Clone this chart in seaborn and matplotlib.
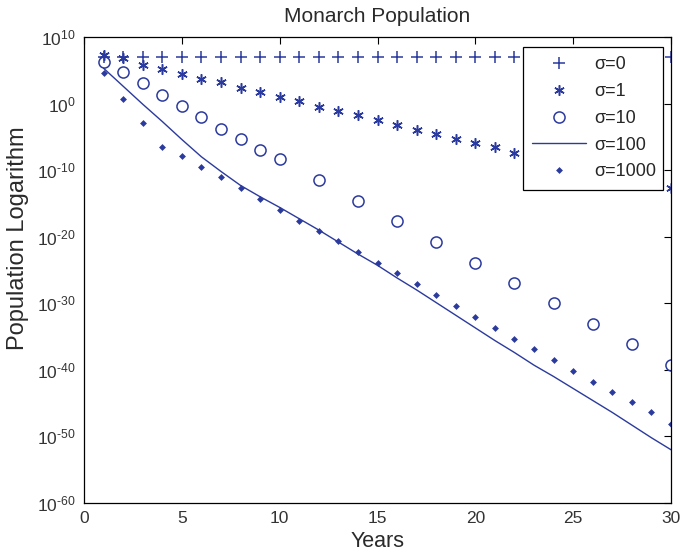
import numpy as np
import pandas as pd
import matplotlib
matplotlib.use("Agg")
import matplotlib.pyplot as plt
import seaborn as sns

# years and log10 of population
years = list(range(1, 31))
sigma0_exp = [7.0] * 30
sigma1_exp = [7.30, 6.80, 5.79, 5.15, 4.40, 3.65, 3.20, 2.29, 1.78, 0.94,
              0.39, -0.56, -1.07, -1.72, -2.51, -3.22, -3.97, -4.57, -5.37, -5.97,
              -6.56, -7.47, -8.1, -8.7, -9.3, -9.9, -10.6, -11.2, -11.9, -12.68]
sigma10_years = [1, 2, 3, 4, 5, 6, 7, 8, 9, 10, 12, 14, 16, 18, 20, 22, 24, 26, 28, 30]
sigma10_exp = [6.29, 4.79, 3.14, 1.29, -0.37, -1.97, -3.82, -5.37, -6.97, -8.37,
               -11.48, -14.59, -17.59, -20.75, -23.90, -27.0, -30.0, -33.1, -36.1, -39.2]
sigma100_exp = [5.3, 2.6, -0.1, -2.7, -5.4, -8.0, -10.2, -12.3, -14.0, -15.6,
                -17.3, -19.0, -20.8, -22.6, -24.3, -26.2, -28.0, -29.9, -31.8, -33.7,
                -35.6, -37.4, -39.3, -41.0, -42.8, -44.6, -46.4, -48.3, -50.2, -52.0]
sigma1000_exp = [4.64, 0.69, -2.96, -6.57, -7.83, -9.48, -11.03, -12.72, -14.38, -15.94,
                 -17.59, -19.10, -20.64, -22.25, -23.90, -25.50, -27.15, -28.76, -30.41, -32.0,
                 -33.7, -35.3, -36.9, -38.5, -40.2, -41.8, -43.3, -44.9, -46.4, -48.1]
ytick_exp = [-60, -50, -40, -30, -20, -10, 0, 10]

sns.set_style("white")
plt.rcParams['font.family'] = ['Liberation Sans', 'DejaVu Sans']
plt.rcParams['mathtext.fontset'] = 'custom'
plt.rcParams['mathtext.rm'] = 'Liberation Sans'
plt.rcParams['mathtext.it'] = 'Liberation Sans'
plt.rcParams['axes.unicode_minus'] = False

blue = '#2b3a9e'

fig = plt.figure(figsize=(6.82, 5.56), dpi=100)
ax = fig.add_axes([0.1232, 0.0953, 0.8607, 0.8382])

def frame(xs, exps):
    return pd.DataFrame({"year": xs, "pop": [10.0 ** e for e in exps]})

# seaborn paints marker edges white by default, so force the edge colour
common = dict(ax=ax, estimator=None, color=blue, markeredgecolor=blue)
sns.lineplot(data=frame(years, sigma0_exp), x="year", y="pop", linestyle='', marker='+',
             markersize=8.5, markeredgewidth=1.1, label='σ=0', **common)
sns.lineplot(data=frame(years, sigma1_exp), x="year", y="pop", linestyle='', marker=(6, 2, 0),
             markersize=7.5, markeredgewidth=1.1, label='σ=1', **common)
sns.lineplot(data=frame(sigma10_years, sigma10_exp), x="year", y="pop", linestyle='', marker='o',
             markersize=8, markerfacecolor='none', markeredgewidth=1.1, label='σ=10', **common)
sns.lineplot(data=frame(years, sigma100_exp), x="year", y="pop", linewidth=1.0,
             label='σ=100', **common)
sns.lineplot(data=frame(years, sigma1000_exp), x="year", y="pop", linestyle='', marker='D',
             markersize=3.5, markeredgewidth=0, label='σ=1000', **common)

ax.set_yscale('log')
ax.set_xlim(0, 30)
ax.set_ylim(1e-60, 1e10)
ax.set_xticks([0, 5, 10, 15, 20, 25, 30])
ax.set_yticks([10.0 ** e for e in ytick_exp])
ax.set_yticklabels([r'$\mathregular{10^{\text{%d}}}$' % e for e in ytick_exp])
ax.yaxis.set_minor_locator(matplotlib.ticker.NullLocator())
ax.tick_params(direction='in', top=True, right=True, length=5, width=0.8,
               labelsize=12.5, colors='black', labelcolor='#333333', pad=6)
for sp in ax.spines.values():
    sp.set_color('black')
    sp.set_linewidth(0.9)

ax.set_title('Monarch Population', fontsize=15, color='#2a2a2a', pad=11)
ax.set_xlabel('Years', fontsize=15.5, color='#2a2a2a', labelpad=3)
ax.set_ylabel('Population Logarithm', fontsize=17, color='#2a2a2a')
ax.yaxis.set_label_coords(-0.094, 0.569)

# legend box sits just inside the top right corner
leg = ax.legend(loc='upper right', bbox_to_anchor=(0.7479, 0.5, 0.2385, 0.4775),
                mode='expand', borderaxespad=0, frameon=True, fancybox=False,
                fontsize=13, handlelength=3.0, labelspacing=0.54,
                borderpad=0.5, handletextpad=0.45)
leg.get_frame().set_edgecolor('black')
leg.get_frame().set_linewidth(0.9)
leg.get_frame().set_alpha(1.0)

fig.savefig('out.png', dpi=100)
